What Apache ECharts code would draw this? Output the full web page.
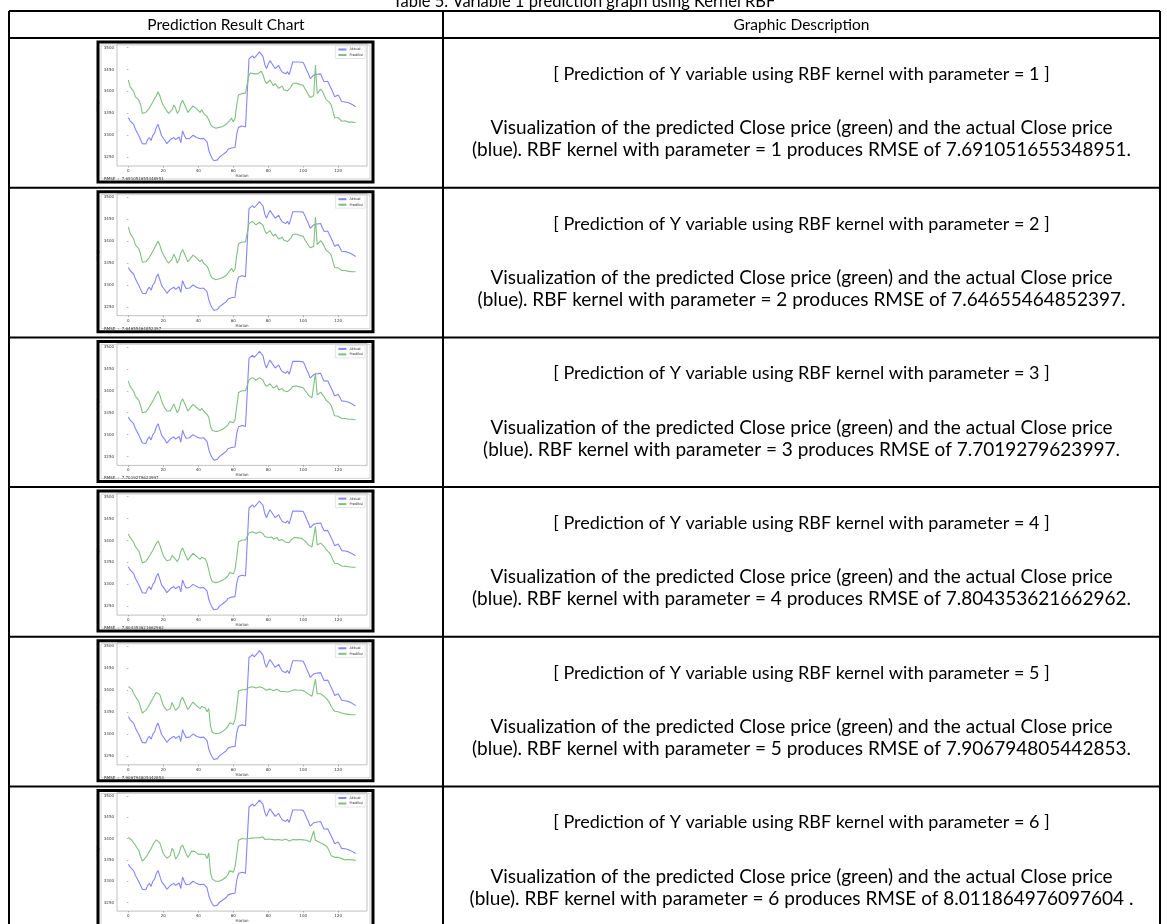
<!DOCTYPE html>
<html>
<head>
<meta charset="utf-8">
<script src="https://cdn.jsdelivr.net/npm/echarts@6/dist/echarts.min.js"></script>
<style>
html,body{margin:0;padding:0;background:#fff;}
#c{width:1167px;height:924px;}
</style>
</head>
<body>
<div id="c"></div>
<script>
// ---------- data ----------
const xIndex = Array.from({length:131}, (_, i) => i);
const xTicks = [0, 20, 40, 60, 80, 100, 120];
const yTicks = [3250, 3300, 3350, 3400, 3450, 3500];
const kernelParams = [1, 2, 3, 4, 5, 6];
const rmseValues = ['7.691051655348951', '7.64655464852397', '7.7019279623997', '7.804353621662962', '7.906794805442853', '8.011864976097604 '];

const actual = [3340,3333,3336,3325,3314,3310,3299,3290,3281,3284,3280,3290,3295,3288,3300,3305,3318,3325,3312,3299,
3295,3288,3281,3285,3290,3292,3295,3290,3294,3296,3283,3310,3300,3292,3292,3293,3292,3300,3303,3295,
3294,3292,3294,3293,3294,3285,3266,3255,3247,3242,3243,3244,3250,3254,3256,3259,3262,3268,3270,3271,
3272,3272,3303,3318,3320,3321,3321,3319,3322,3474,3478,3481,3476,3474,3485,3490,3493,3480,3462,3452,
3462,3470,3467,3458,3452,3455,3459,3450,3444,3447,3440,3445,3438,3452,3467,3468,3467,3468,3467,3468,
3466,3458,3448,3440,3429,3432,3437,3436,3439,3441,3440,3430,3422,3424,3423,3415,3411,3398,3388,3390,
3392,3385,3377,3375,3376,3374,3374,3372,3370,3366,3365];

const pred1 = [3426,3411,3414,3400,3388,3385,3380,3370,3350,3348,3352,3356,3362,3369,3376,3384,3390,3399,3390,3377,
3368,3362,3355,3350,3352,3358,3369,3362,3350,3356,3372,3380,3376,3362,3352,3355,3362,3367,3364,3360,
3358,3352,3358,3350,3352,3343,3335,3325,3320,3316,3316,3317,3318,3320,3320,3322,3325,3328,3334,3339,
3331,3338,3370,3392,3394,3395,3394,3396,3400,3437,3442,3444,3440,3436,3440,3444,3446,3438,3425,3418,
3420,3426,3422,3413,3418,3422,3407,3406,3412,3404,3400,3401,3399,3410,3418,3421,3419,3420,3416,3418,
3414,3406,3400,3392,3386,3384,3390,3460,3395,3398,3405,3400,3391,3382,3378,3375,3370,3355,3340,3337,
3340,3336,3332,3334,3333,3332,3330,3331,3330,3329,3329];

const pred2 = [3432,3418,3420,3405,3392,3388,3382,3370,3352,3349,3353,3357,3363,3370,3377,3385,3392,3400,3391,3378,
3369,3362,3355,3350,3353,3359,3370,3362,3350,3357,3373,3381,3377,3363,3353,3356,3363,3368,3365,3361,
3359,3353,3358,3350,3352,3343,3334,3322,3316,3312,3312,3313,3314,3316,3317,3319,3322,3326,3332,3338,
3330,3336,3368,3394,3397,3398,3397,3398,3400,3440,3443,3445,3441,3437,3440,3443,3444,3436,3424,3417,
3419,3424,3420,3411,3416,3419,3405,3404,3409,3402,3398,3399,3397,3407,3415,3418,3416,3417,3413,3415,
3411,3403,3397,3390,3385,3383,3388,3455,3392,3395,3401,3396,3388,3380,3376,3373,3368,3354,3340,3337,
3339,3336,3333,3334,3333,3332,3331,3331,3330,3330,3330];

const pred3 = [3422,3410,3412,3399,3388,3384,3378,3366,3350,3348,3352,3357,3363,3370,3377,3385,3392,3399,3390,3377,
3367,3360,3354,3350,3354,3362,3370,3360,3350,3357,3374,3382,3378,3364,3354,3357,3364,3369,3366,3362,
3360,3355,3360,3354,3355,3346,3340,3318,3310,3307,3307,3308,3309,3311,3313,3315,3318,3323,3330,3333,
3327,3334,3364,3396,3399,3400,3399,3400,3402,3425,3428,3430,3427,3424,3427,3430,3431,3424,3415,3410,
3412,3416,3413,3406,3410,3412,3402,3401,3405,3400,3397,3398,3396,3404,3410,3412,3411,3411,3409,3410,
3407,3401,3396,3390,3386,3384,3388,3440,3390,3392,3397,3393,3386,3379,3376,3372,3367,3355,3343,3340,
3342,3339,3337,3338,3337,3336,3335,3335,3335,3334,3334];

const pred4 = [3415,3407,3408,3396,3386,3382,3376,3363,3349,3348,3352,3358,3364,3371,3378,3386,3393,3399,3390,3377,
3366,3359,3354,3351,3356,3366,3370,3357,3352,3359,3376,3383,3379,3364,3355,3359,3366,3371,3368,3364,
3361,3357,3362,3358,3358,3349,3350,3316,3306,3304,3304,3305,3306,3308,3310,3312,3315,3320,3327,3328,
3324,3333,3363,3397,3400,3401,3400,3401,3402,3417,3419,3420,3418,3416,3418,3420,3421,3416,3409,3405,
3407,3410,3408,3403,3406,3407,3400,3399,3402,3398,3396,3397,3395,3401,3405,3407,3406,3406,3405,3405,
3403,3399,3395,3390,3387,3385,3388,3432,3390,3391,3394,3391,3386,3380,3377,3372,3365,3356,3348,3345,
3347,3344,3342,3342,3341,3340,3340,3340,3339,3339,3339];

const pred5 = [3408,3404,3402,3393,3386,3380,3374,3360,3348,3349,3354,3360,3367,3374,3381,3389,3395,3399,3390,3377,
3365,3359,3354,3351,3358,3372,3370,3354,3355,3362,3378,3384,3380,3365,3356,3361,3368,3373,3369,3365,
3362,3358,3363,3362,3360,3351,3358,3318,3304,3302,3301,3301,3302,3304,3306,3309,3313,3318,3326,3325,
3322,3333,3362,3398,3400,3401,3401,3401,3402,3406,3407,3408,3406,3405,3406,3408,3408,3405,3402,3400,
3402,3403,3402,3399,3401,3402,3398,3397,3399,3397,3396,3396,3394,3398,3400,3401,3400,3400,3400,3400,
3399,3397,3394,3391,3388,3386,3390,3425,3392,3392,3392,3390,3386,3382,3378,3372,3363,3357,3352,3350,
3351,3349,3348,3347,3346,3345,3345,3345,3344,3344,3344];

const pred6 = [3403,3402,3396,3390,3385,3378,3372,3358,3347,3350,3356,3362,3370,3376,3385,3392,3397,3400,3390,3377,
3365,3359,3354,3351,3360,3377,3370,3352,3358,3365,3380,3385,3381,3365,3356,3362,3370,3374,3370,3366,
3363,3359,3364,3366,3362,3353,3366,3320,3305,3303,3300,3299,3300,3302,3304,3306,3310,3316,3325,3323,
3321,3333,3362,3396,3399,3400,3400,3399,3400,3400,3400,3401,3400,3402,3403,3402,3401,3404,3398,3396,
3399,3398,3398,3395,3397,3399,3398,3397,3396,3398,3399,3395,3394,3397,3398,3398,3397,3397,3398,3398,
3397,3396,3396,3396,3392,3388,3418,3396,3395,3392,3389,3388,3385,3383,3378,3370,3360,3357,3356,3355,
3356,3354,3353,3350,3350,3351,3351,3350,3350,3349,3349];

const predictions = [pred1, pred2, pred3, pred4, pred5, pred6];

// ---------- layout ----------
const W = 1167, H = 924;
const tableLeft = 9, tableRight = 1160, colDiv = 443;
const tableTop = 11, headBottom = 38, rowH = 149.7;
const rowTops = kernelParams.map((_, i) => headBottom + i * rowH);
const frameLeft = 98, frameW = 275, frameH = 140, frameOff = 4;
const plotLeft = 117, plotW = 250, plotTopOff = 2, plotH = 122;
const textCx = (colDiv + tableRight) / 2;
const FONT = 'Lato, "Liberation Sans", sans-serif';
const SMALL = '"DejaVu Sans", sans-serif';
const BLUE = '#8585ff', GREEN = '#80c080';

const graphics = [];
graphics.push({type:'text', x: 584, y: 2, style:{text:'Table 5. Variable 1 prediction graph using Kernel RBF', font:'16.5px ' + FONT, fill:'#000', align:'center', verticalAlign:'middle'}});
graphics.push({type:'text', x: (tableLeft + colDiv)/2, y: (tableTop + headBottom)/2, style:{text:'Prediction Result Chart', font:'15.5px ' + FONT, fill:'#000', align:'center', verticalAlign:'middle'}});
graphics.push({type:'text', x: textCx, y: (tableTop + headBottom)/2, style:{text:'Graphic Description', font:'15.5px ' + FONT, fill:'#000', align:'center', verticalAlign:'middle'}});

const grids = [], xAxes = [], yAxes = [], series = [], legends = [];
kernelParams.forEach((p, i) => {
  const R = rowTops[i];
  const F = R + frameOff;
  graphics.push({type:'rect', shape:{x: frameLeft, y: F, width: frameW, height: frameH}, style:{fill:'none', stroke:'#000', lineWidth:3}, z: 8});
  graphics.push({type:'rect', shape:{x: frameLeft + 3, y: F + 3, width: frameW - 6, height: frameH - 6}, style:{fill:'none', stroke:'#c8c8c8', lineWidth:0.8}, z: 8});
  graphics.push({type:'text', x: frameLeft + 6, y: F + 137, style:{text:'RMSE  :  ' + rmseValues[i].trim(), font:'4px ' + SMALL, fill:'#333', verticalAlign:'middle'}, z: 8});
  graphics.push({type:'text', x: textCx, y: R + 36, style:{text:'[ Prediction of Y variable using RBF kernel with parameter = ' + p + ' ]', font:'18px ' + FONT, fill:'#000', align:'center', verticalAlign:'middle'}});
  graphics.push({type:'text', x: textCx, y: R + 90, style:{text:'Visualization of the predicted Close price (green) and the actual Close price', font:'19px ' + FONT, fill:'#000', align:'center', verticalAlign:'middle'}});
  graphics.push({type:'text', x: textCx, y: R + 112, style:{text:'(blue). RBF kernel with parameter = ' + p + ' produces RMSE of ' + rmseValues[i] + '.', font:'19px ' + FONT, fill:'#000', align:'center', verticalAlign:'middle'}});

  grids.push({left: plotLeft, top: F + plotTopOff, width: plotW, height: plotH, show: true, borderColor: '#999', borderWidth: 0.6, backgroundColor: 'transparent'});
  xAxes.push({type:'value', gridIndex: i, min: -6.5, max: 136.5,
    name: 'Harian', nameLocation: 'middle', nameGap: 7, nameTextStyle:{fontSize: 4, fontFamily: SMALL, color:'#333'},
    axisLine:{show:false}, splitLine:{show:false},
    axisTick:{show:true, length:1.5, lineStyle:{color:'#666', width:0.5}, customValues: xTicks},
    axisLabel:{fontSize: 4, fontFamily: SMALL, color:'#333', margin: 3, customValues: xTicks, formatter: v => String(v)}});
  yAxes.push({type:'value', gridIndex: i, min: 3230, max: 3508,
    name: 'Harga', nameLocation: 'middle', nameGap: 10, nameRotate: 90, nameTextStyle:{fontSize: 4, fontFamily: SMALL, color:'#333'},
    axisLine:{show:false}, splitLine:{show:false},
    axisTick:{show:true, length:1.5, lineStyle:{color:'#666', width:0.5}, customValues: yTicks},
    axisLabel:{fontSize: 4, fontFamily: SMALL, color:'#333', margin: 3, customValues: yTicks, formatter: v => String(v)}});
  series.push({type:'line', name:'Aktual', xAxisIndex:i, yAxisIndex:i, data: xIndex.map((x, k) => [x, actual[k]]), showSymbol:false, symbol:'none', lineStyle:{color: BLUE, width: 1.1}, itemStyle:{color: BLUE}, silent: true, animation:false});
  series.push({type:'line', name:'Prediksi', xAxisIndex:i, yAxisIndex:i, data: xIndex.map((x, k) => [x, predictions[i][k]]), showSymbol:false, symbol:'none', lineStyle:{color: GREEN, width: 1.1}, itemStyle:{color: GREEN}, silent: true, animation:false});
  legends.push({show: true, orient:'vertical', right: W - (plotLeft + plotW) + 2, top: F + plotTopOff + 2,
    itemWidth: 8, itemHeight: 2, itemGap: 1.5, padding: [1.5, 2], borderColor:'#ccc', borderWidth: 0.5, backgroundColor:'#fff',
    textStyle:{fontSize: 3.5, fontFamily: SMALL, color:'#333', padding:[0,0,0,-2]},
    data:[{name:'Aktual', itemStyle:{color: BLUE}}, {name:'Prediksi', itemStyle:{color: GREEN}}], selectedMode: false});
});

// table lines
const LW = 2;
const tableBottom = headBottom + 6 * rowH;
const hLines = [tableTop, headBottom, ...rowTops.slice(1), tableBottom];
hLines.forEach(y => graphics.push({type:'line', shape:{x1: tableLeft, y1: y, x2: tableRight, y2: y}, style:{stroke:'#000', lineWidth: LW}, z: 10}));
[tableLeft, colDiv, tableRight].forEach(x => graphics.push({type:'line', shape:{x1: x, y1: tableTop, x2: x, y2: tableBottom}, style:{stroke:'#000', lineWidth: LW}, z: 10}));

const chart = echarts.init(document.getElementById('c'), null, {renderer: 'canvas', width: W, height: H});
chart.setOption({
  backgroundColor: '#fff',
  animation: false,
  grid: grids,
  xAxis: xAxes,
  yAxis: yAxes,
  legend: legends,
  series: series,
  graphic: graphics
});
</script>
</body>
</html>
